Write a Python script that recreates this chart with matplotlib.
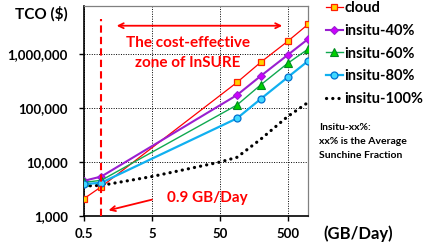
import numpy as np
import matplotlib
matplotlib.use("Agg")
import matplotlib.pyplot as plt
from matplotlib.ticker import FixedLocator, FuncFormatter, NullLocator

plt.rcParams['font.family'] = ['Lato', 'DejaVu Sans']
plt.rcParams['font.weight'] = 'bold'

# data (GB/Day vs TCO in $)
gb_day = [0.5, 0.9, 90, 200, 500, 1000]
cloud = [2100, 3500, 302000, 710000, 1740000, 3600000]
insitu_40 = [4500, 5400, 176000, 395000, 970000, 1920000]
insitu_60 = [4200, 4600, 115000, 270000, 680000, 1250000]
insitu_80 = [3900, 4150, 65000, 148000, 374000, 751000]

gb_day_100 = [0.5, 0.9, 5, 50, 90, 200, 500, 1000]
insitu_100 = [3600, 3700, 5400, 10000, 12300, 26500, 70000, 128000]

x_ticks = [0.5, 5, 50, 500]
x_tick_labels = ['0.5', '5', '50', '500']
y_ticks = [1000, 10000, 100000, 1000000]

fig = plt.figure(figsize=(4.27, 2.48), dpi=100)
ax = fig.add_axes([84/427, 1-216/248, 224/427, 210/248])

ax.plot(gb_day, cloud, color='#FF0000', lw=0.9, marker='s', ms=5,
        mfc='#FFD200', mec='#FF2000', mew=0.9, label='cloud', zorder=5)
ax.plot(gb_day, insitu_40, color='#9A1FD0', lw=1.5, marker='D', ms=4.2,
        mfc='#CC00FF', mec='#9A1FD0', mew=0.8, label='insitu-40%', zorder=5)
ax.plot(gb_day, insitu_60, color='#10A850', lw=1.0, marker='^', ms=5.5,
        mfc='#00D000', mec='#008A20', mew=0.8, label='insitu-60%', zorder=5)
ax.plot(gb_day, insitu_80, color='#10B0F0', lw=1.6, marker='o', ms=5,
        mfc='#40D8FF', mec='#0070D0', mew=0.9, label='insitu-80%', zorder=5)
ax.plot(gb_day_100, insitu_100, color='black', lw=2.3, dashes=(0.05, 1.9),
        dash_capstyle='round', label='insitu-100%', zorder=4)

ax.set_xscale('log')
ax.set_yscale('log')
ax.set_xlim(0.5, 1000)
ax.set_ylim(1000, 7.9e6)

ax.xaxis.set_major_locator(FixedLocator(x_ticks))
ax.xaxis.set_minor_locator(NullLocator())
ax.set_xticklabels(x_tick_labels)
ax.yaxis.set_major_locator(FixedLocator(y_ticks))
ax.yaxis.set_minor_locator(NullLocator())
ax.yaxis.set_major_formatter(FuncFormatter(lambda v, p: f'{int(v):,}'))
ax.tick_params(axis='both', labelsize=9.5, length=3.6, width=1, direction='out')
ax.tick_params(axis='y', pad=8)
ax.tick_params(axis='x', pad=5)
for lab in ax.get_xticklabels() + ax.get_yticklabels():
    lab.set_fontweight('bold')

ax.grid(True, which='major', color='black', linestyle=(0, (1, 1.5)), lw=0.7)
ax.set_axisbelow(True)
for s in ['left', 'bottom']:
    ax.spines[s].set_linewidth(1.2)
    ax.spines[s].set_color('black')
for s in ['top', 'right']:
    ax.spines[s].set_linewidth(0.9)
    ax.spines[s].set_color('#808080')

# 0.9 GB/Day marker line
ax.plot([0.9, 0.9], [1000, 4.5e6], color='#FF0000', lw=1.5, dashes=(3.5, 2), zorder=6)

# cost-effective zone
ax.annotate('', xy=(1.38, 3.4e6), xytext=(458, 3.4e6),
            arrowprops=dict(arrowstyle='<->', color='#FF0000', lw=1.3, mutation_scale=9))
ax.text(16.8, 1.62e6, 'The cost-effective', color='#FF0000', fontsize=11,
        fontweight='bold', ha='center', va='center')
ax.text(16.8, 6.9e5, 'zone of InSURE', color='#FF0000', fontsize=11,
        fontweight='bold', ha='center', va='center')

ax.annotate('', xy=(1.05, 1240), xytext=(5.5, 2070),
            arrowprops=dict(arrowstyle='->', color='#FF0000', lw=1.3, mutation_scale=9))
ax.text(8.5, 2190, '0.9 GB/Day', color='#FF0000', fontsize=11,
        fontweight='bold', ha='left', va='center')

fig.text(15/427, 1-14/248, 'TCO ($)', fontsize=11, fontweight='bold', ha='left', va='center')
fig.text(323/427, 1-234/248, '(GB/Day)', fontsize=12, fontweight='bold', ha='left', va='center')

fig.text(319/427, 1-127/248, 'Insitu-xx%:', fontsize=7.5, fontweight='bold', ha='left', va='center')
fig.text(319/427, 1-142/248, 'xx% is the Average', fontsize=7.5, fontweight='bold', ha='left', va='center')
fig.text(319/427, 1-156/248, 'Sunchine Fraction', fontsize=7.5, fontweight='bold', ha='left', va='center')

leg = ax.legend(loc='upper left', bbox_to_anchor=(326/427, 1 - 1/248),
                bbox_transform=fig.transFigure, frameon=False, fontsize=10.5,
                handlelength=1.15, handletextpad=0.12, labelspacing=0.6,
                borderaxespad=0, borderpad=0)
for t in leg.get_texts():
    t.set_fontweight('bold')

fig.savefig('out.png', dpi=100)
